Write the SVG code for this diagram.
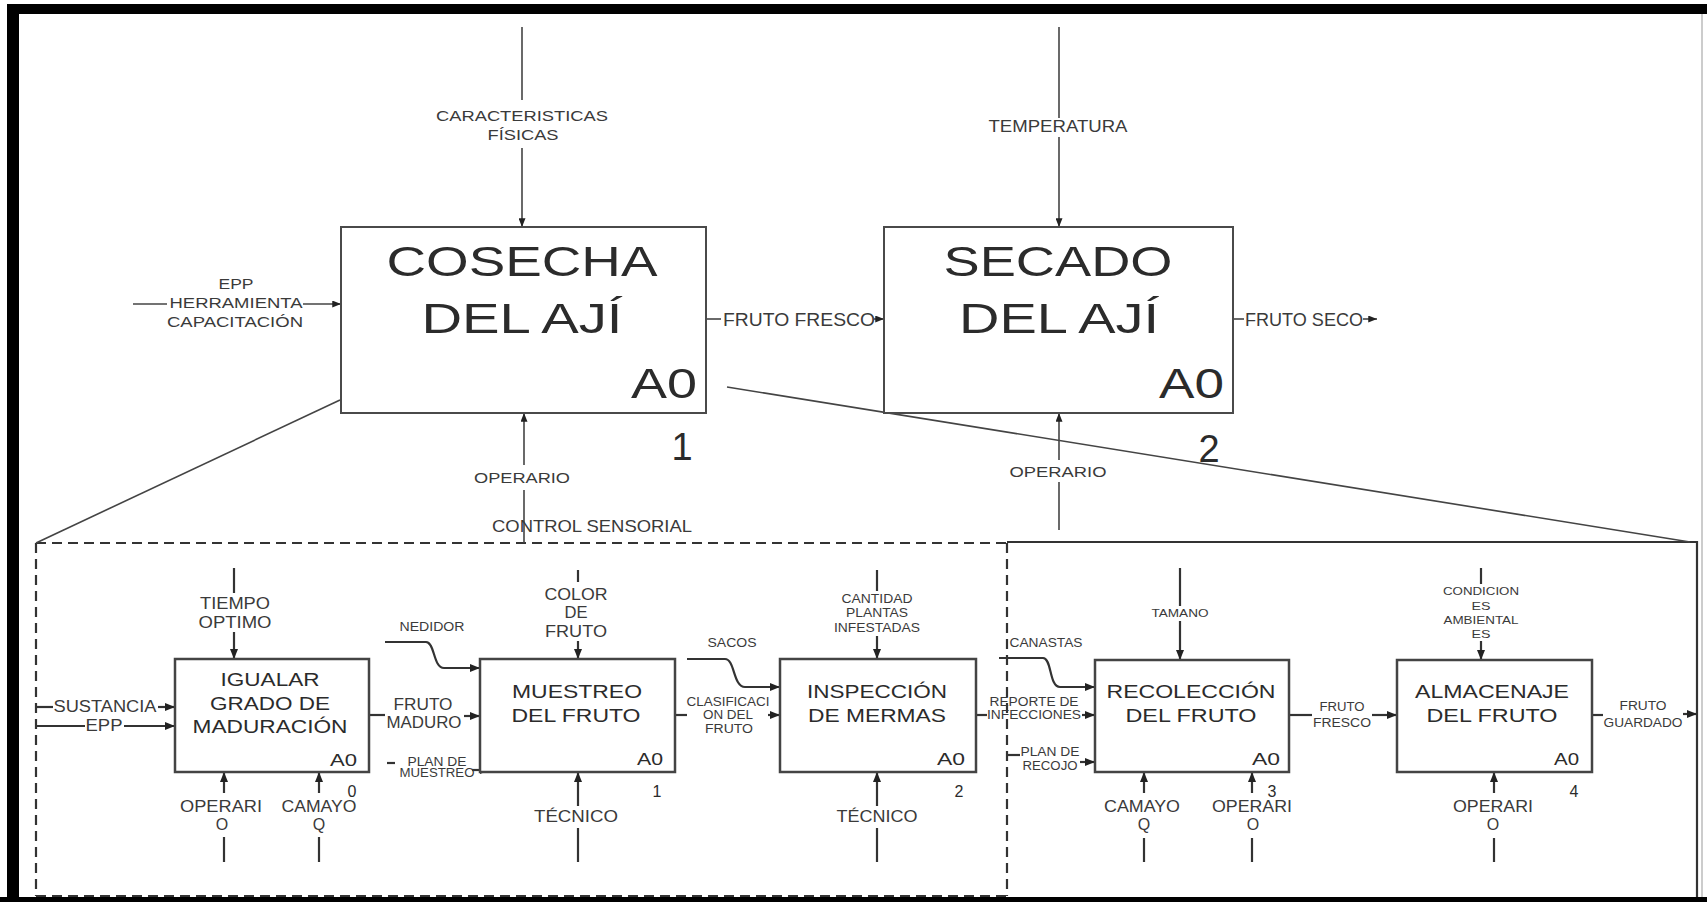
<svg xmlns="http://www.w3.org/2000/svg" width="1707" height="902" viewBox="0 0 1707 902">
<style>
.bg{fill:#ffffff}
.frame{fill:#000000}
.box{fill:#ffffff;stroke:#4a4a4a;stroke-width:2}
.sbox{fill:#ffffff;stroke:#444444;stroke-width:2.5}
.ln{fill:none;stroke:#444444;stroke-width:1.6}
.lnb{fill:none;stroke:#333333;stroke-width:2.2}
.dash{fill:none;stroke:#333333;stroke-width:2.2;stroke-dasharray:10 6}
.t{font-family:"Liberation Sans",Arial,sans-serif;fill:#2b2b2b;text-anchor:middle}
.te{font-family:"Liberation Sans",Arial,sans-serif;fill:#2b2b2b;text-anchor:end}
.lbl{font-family:"Liberation Sans",Arial,sans-serif;fill:#3a3a3a;text-anchor:middle}
</style>
<defs>
<marker id="ah" viewBox="0 0 10 8" refX="10" refY="4" markerWidth="10" markerHeight="8" markerUnits="userSpaceOnUse" orient="auto">
<path d="M0,0 L10,4 L0,8 z" fill="#222222"/>
</marker>
<marker id="ahs" viewBox="0 0 10 8" refX="10" refY="4" markerWidth="9" markerHeight="7" markerUnits="userSpaceOnUse" orient="auto">
<path d="M0,0 L10,4 L0,8 z" fill="#222222"/>
</marker>
</defs>
<rect class="bg" x="0" y="0" width="1707" height="902"/>
<g id="frame">
<rect class="frame" x="7" y="4" width="1700" height="10"/>
<rect class="frame" x="7" y="4" width="12" height="898"/>
<rect class="frame" x="0" y="897" width="1707" height="5"/>
<line x1="1702" y1="14" x2="1702" y2="897" stroke="#cccccc" stroke-width="2"/>
</g>
<g id="zoom-frame">
<path class="dash" d="M36,543 H1007 M36,543 V896 M1007,543 V896 M36,896 H1007"/>
<path class="lnb" d="M1007,542 H1697 V897"/>
</g>
<g id="connectors">
<path class="ln" d="M340,400 L36,543"/>
<path class="ln" d="M727,387 L1690,542"/>
<path class="ln" d="M522,27 V100"/>
<path class="ln" d="M522,148 V227" marker-end="url(#ahs)"/>
<path class="ln" d="M1059,27 V118"/>
<path class="ln" d="M1059,137 V227" marker-end="url(#ahs)"/>
<path class="ln" d="M133,304 H167"/>
<path class="ln" d="M303,304 H341" marker-end="url(#ahs)"/>
<path class="ln" d="M706,319 H721"/>
<path class="ln" d="M874,319 H884" marker-end="url(#ahs)"/>
<path class="ln" d="M1233,319 H1244"/>
<path class="ln" d="M1363,319 H1377" marker-end="url(#ahs)"/>
<path class="ln" d="M524,465 V413" marker-end="url(#ahs)"/>
<path class="ln" d="M524,490 V543"/>
<path class="ln" d="M1059,460 V413" marker-end="url(#ahs)"/>
<path class="ln" d="M1059,482 V530"/>
<path class="lnb" d="M234,568 V593"/>
<path class="lnb" d="M234,632 V659" marker-end="url(#ah)"/>
<path class="lnb" d="M578,570 V582"/>
<path class="lnb" d="M578,641 V659" marker-end="url(#ah)"/>
<path class="lnb" d="M877,570 V591"/>
<path class="lnb" d="M877,636 V659" marker-end="url(#ah)"/>
<path class="lnb" d="M1180,568 V606"/>
<path class="lnb" d="M1180,621 V660" marker-end="url(#ah)"/>
<path class="lnb" d="M1481,568 V584"/>
<path class="lnb" d="M1481,641 V660" marker-end="url(#ah)"/>
<path class="lnb" d="M36,707 H53"/>
<path class="lnb" d="M158,707 H175" marker-end="url(#ah)"/>
<path class="lnb" d="M36,726 H85"/>
<path class="lnb" d="M124,726 H175" marker-end="url(#ah)"/>
<path class="lnb" d="M369,715 H385"/>
<path class="lnb" d="M464,716 H480" marker-end="url(#ah)"/>
<path class="lnb" d="M385,642 H426 C435,642 433,668 444,668 H480" marker-end="url(#ah)"/>
<path class="lnb" d="M387,763 H395"/>
<path class="lnb" d="M472,770 H490" marker-end="url(#ah)"/>
<path class="lnb" d="M687,659 H725 C735,659 733,687 745,687 H780" marker-end="url(#ah)"/>
<path class="lnb" d="M675,715 H687"/>
<path class="lnb" d="M768,715 H780" marker-end="url(#ah)"/>
<path class="lnb" d="M976,715 H987"/>
<path class="lnb" d="M1082,715 H1095" marker-end="url(#ah)"/>
<path class="lnb" d="M999,658 H1043 C1052,658 1049,687 1060,687 H1095" marker-end="url(#ah)"/>
<path class="lnb" d="M1008,755 H1020"/>
<path class="lnb" d="M1080,762 H1095" marker-end="url(#ah)"/>
<path class="lnb" d="M1289,715 H1312"/>
<path class="lnb" d="M1372,715 H1397" marker-end="url(#ah)"/>
<path class="lnb" d="M1592,715 H1603"/>
<path class="lnb" d="M1683,714 H1697" marker-end="url(#ah)"/>
<path class="lnb" d="M224,793 V772" marker-end="url(#ah)"/>
<path class="lnb" d="M224,837 V862"/>
<path class="lnb" d="M319,793 V772" marker-end="url(#ah)"/>
<path class="lnb" d="M319,837 V862"/>
<path class="lnb" d="M578,806 V772" marker-end="url(#ah)"/>
<path class="lnb" d="M578,828 V862"/>
<path class="lnb" d="M877,806 V772" marker-end="url(#ah)"/>
<path class="lnb" d="M877,828 V862"/>
<path class="lnb" d="M1144,793 V772" marker-end="url(#ah)"/>
<path class="lnb" d="M1144,838 V862"/>
<path class="lnb" d="M1252,793 V772" marker-end="url(#ah)"/>
<path class="lnb" d="M1252,838 V862"/>
<path class="lnb" d="M1494,793 V772" marker-end="url(#ah)"/>
<path class="lnb" d="M1494,838 V862"/>
</g>
<g id="labels">
<text class="lbl" x="522" y="121" font-size="15" textLength="172" lengthAdjust="spacingAndGlyphs">CARACTERISTICAS</text>
<text class="lbl" x="523" y="140" font-size="15" textLength="71" lengthAdjust="spacingAndGlyphs">FÍSICAS</text>
<text class="lbl" x="236" y="289" font-size="15" textLength="35" lengthAdjust="spacingAndGlyphs">EPP</text>
<text class="lbl" x="236" y="308" font-size="15" textLength="133" lengthAdjust="spacingAndGlyphs">HERRAMIENTA</text>
<text class="lbl" x="235" y="327" font-size="15" textLength="136" lengthAdjust="spacingAndGlyphs">CAPACITACIÓN</text>
<text class="lbl" x="799" y="326" font-size="18" textLength="152" lengthAdjust="spacingAndGlyphs">FRUTO FRESCO</text>
<text class="lbl" x="1058" y="132" font-size="16" textLength="139" lengthAdjust="spacingAndGlyphs">TEMPERATURA</text>
<text class="lbl" x="1304" y="326" font-size="18" textLength="118" lengthAdjust="spacingAndGlyphs">FRUTO SECO</text>
<text class="lbl" x="522" y="483" font-size="15" textLength="96" lengthAdjust="spacingAndGlyphs">OPERARIO</text>
<text class="lbl" x="1058" y="477" font-size="15" textLength="97" lengthAdjust="spacingAndGlyphs">OPERARIO</text>
<text class="lbl" x="592" y="532" font-size="17" textLength="200" lengthAdjust="spacingAndGlyphs">CONTROL SENSORIAL</text>
<text class="lbl" x="235" y="609" font-size="17" textLength="70" lengthAdjust="spacingAndGlyphs">TIEMPO</text>
<text class="lbl" x="235" y="628" font-size="17" textLength="73" lengthAdjust="spacingAndGlyphs">OPTIMO</text>
<text class="lbl" x="105" y="712" font-size="16" textLength="103" lengthAdjust="spacingAndGlyphs">SUSTANCIA</text>
<text class="lbl" x="104" y="731" font-size="16" textLength="37" lengthAdjust="spacingAndGlyphs">EPP</text>
<text class="lbl" x="221" y="812" font-size="16" textLength="82" lengthAdjust="spacingAndGlyphs">OPERARI</text>
<text class="lbl" x="222" y="830" font-size="16">O</text>
<text class="lbl" x="319" y="812" font-size="16" textLength="75" lengthAdjust="spacingAndGlyphs">CAMAYO</text>
<text class="lbl" x="319" y="830" font-size="16">Q</text>
<text class="lbl" x="432" y="631" font-size="12" textLength="65" lengthAdjust="spacingAndGlyphs">NEDIDOR</text>
<text class="lbl" x="423" y="710" font-size="16" textLength="59" lengthAdjust="spacingAndGlyphs">FRUTO</text>
<text class="lbl" x="424" y="728" font-size="16" textLength="75" lengthAdjust="spacingAndGlyphs">MADURO</text>
<text class="lbl" x="437" y="766" font-size="12" textLength="59" lengthAdjust="spacingAndGlyphs">PLAN DE</text>
<text class="lbl" x="437" y="777" font-size="12" textLength="75" lengthAdjust="spacingAndGlyphs">MUESTREO</text>
<text class="lbl" x="576" y="600" font-size="16" textLength="63" lengthAdjust="spacingAndGlyphs">COLOR</text>
<text class="lbl" x="576" y="618" font-size="16" textLength="23" lengthAdjust="spacingAndGlyphs">DE</text>
<text class="lbl" x="576" y="637" font-size="16" textLength="62" lengthAdjust="spacingAndGlyphs">FRUTO</text>
<text class="lbl" x="576" y="822" font-size="16" textLength="84" lengthAdjust="spacingAndGlyphs">TÉCNICO</text>
<text class="lbl" x="732" y="647" font-size="12" textLength="49" lengthAdjust="spacingAndGlyphs">SACOS</text>
<text class="lbl" x="728" y="706" font-size="12" textLength="83" lengthAdjust="spacingAndGlyphs">CLASIFICACI</text>
<text class="lbl" x="728" y="719" font-size="12" textLength="50" lengthAdjust="spacingAndGlyphs">ON DEL</text>
<text class="lbl" x="729" y="733" font-size="12" textLength="48" lengthAdjust="spacingAndGlyphs">FRUTO</text>
<text class="lbl" x="877" y="603" font-size="12" textLength="71" lengthAdjust="spacingAndGlyphs">CANTIDAD</text>
<text class="lbl" x="877" y="617" font-size="12" textLength="62" lengthAdjust="spacingAndGlyphs">PLANTAS</text>
<text class="lbl" x="877" y="632" font-size="12" textLength="86" lengthAdjust="spacingAndGlyphs">INFESTADAS</text>
<text class="lbl" x="877" y="822" font-size="16" textLength="81" lengthAdjust="spacingAndGlyphs">TÉCNICO</text>
<text class="lbl" x="1034" y="706" font-size="12" textLength="89" lengthAdjust="spacingAndGlyphs">REPORTE DE</text>
<text class="lbl" x="1034" y="719" font-size="12" textLength="94" lengthAdjust="spacingAndGlyphs">INFECCIONES</text>
<text class="lbl" x="1046" y="647" font-size="12" textLength="73" lengthAdjust="spacingAndGlyphs">CANASTAS</text>
<text class="lbl" x="1050" y="756" font-size="12" textLength="59" lengthAdjust="spacingAndGlyphs">PLAN DE</text>
<text class="lbl" x="1050" y="770" font-size="12" textLength="55" lengthAdjust="spacingAndGlyphs">RECOJO</text>
<text class="lbl" x="1180" y="617" font-size="11" textLength="57" lengthAdjust="spacingAndGlyphs">TAMANO</text>
<text class="lbl" x="1142" y="812" font-size="16" textLength="76" lengthAdjust="spacingAndGlyphs">CAMAYO</text>
<text class="lbl" x="1144" y="830" font-size="16">Q</text>
<text class="lbl" x="1252" y="812" font-size="16" textLength="80" lengthAdjust="spacingAndGlyphs">OPERARI</text>
<text class="lbl" x="1253" y="830" font-size="16">O</text>
<text class="lbl" x="1342" y="711" font-size="12" textLength="45" lengthAdjust="spacingAndGlyphs">FRUTO</text>
<text class="lbl" x="1342" y="727" font-size="12" textLength="58" lengthAdjust="spacingAndGlyphs">FRESCO</text>
<text class="lbl" x="1481" y="595" font-size="11" textLength="76" lengthAdjust="spacingAndGlyphs">CONDICION</text>
<text class="lbl" x="1481" y="610" font-size="11" textLength="19" lengthAdjust="spacingAndGlyphs">ES</text>
<text class="lbl" x="1481" y="624" font-size="11" textLength="75" lengthAdjust="spacingAndGlyphs">AMBIENTAL</text>
<text class="lbl" x="1481" y="638" font-size="11" textLength="19" lengthAdjust="spacingAndGlyphs">ES</text>
<text class="lbl" x="1493" y="812" font-size="16" textLength="80" lengthAdjust="spacingAndGlyphs">OPERARI</text>
<text class="lbl" x="1493" y="830" font-size="16">O</text>
<text class="lbl" x="1643" y="710" font-size="12" textLength="47" lengthAdjust="spacingAndGlyphs">FRUTO</text>
<text class="lbl" x="1643" y="727" font-size="12" textLength="79" lengthAdjust="spacingAndGlyphs">GUARDADO</text>
</g>
<g id="cosecha">
<rect class="box" x="341" y="227" width="365" height="186"/>
<text class="t" x="522" y="276" font-size="43" textLength="271" lengthAdjust="spacingAndGlyphs">COSECHA</text>
<text class="t" x="522" y="333" font-size="43" textLength="201" lengthAdjust="spacingAndGlyphs">DEL AJÍ</text>
<text class="te" x="697" y="398" font-size="43" textLength="66" lengthAdjust="spacingAndGlyphs">A0</text>
<text class="t" x="682" y="460" font-size="38">1</text>
</g>
<g id="secado">
<rect class="box" x="884" y="227" width="349" height="186"/>
<text class="t" x="1058" y="276" font-size="43" textLength="229" lengthAdjust="spacingAndGlyphs">SECADO</text>
<text class="t" x="1059" y="333" font-size="43" textLength="200" lengthAdjust="spacingAndGlyphs">DEL AJÍ</text>
<text class="te" x="1224" y="398" font-size="43" textLength="65" lengthAdjust="spacingAndGlyphs">A0</text>
<text class="t" x="1209" y="462" font-size="38">2</text>
</g>
<g id="igualar">
<rect class="sbox" x="175" y="659" width="194" height="113"/>
<text class="t" x="270" y="686" font-size="19" textLength="99" lengthAdjust="spacingAndGlyphs">IGUALAR</text>
<text class="t" x="270" y="710" font-size="19" textLength="120" lengthAdjust="spacingAndGlyphs">GRADO DE</text>
<text class="t" x="270" y="733" font-size="19" textLength="155" lengthAdjust="spacingAndGlyphs">MADURACIÓN</text>
<text class="te" x="357" y="766" font-size="17" textLength="27" lengthAdjust="spacingAndGlyphs">A0</text>
<text class="t" x="352" y="797" font-size="16">0</text>
</g>
<g id="muestreo">
<rect class="sbox" x="480" y="659" width="195" height="113"/>
<text class="t" x="577" y="698" font-size="19" textLength="130" lengthAdjust="spacingAndGlyphs">MUESTREO</text>
<text class="t" x="576" y="722" font-size="19" textLength="129" lengthAdjust="spacingAndGlyphs">DEL FRUTO</text>
<text class="te" x="663" y="765" font-size="17" textLength="26" lengthAdjust="spacingAndGlyphs">A0</text>
<text class="t" x="657" y="797" font-size="16">1</text>
</g>
<g id="inspeccion">
<rect class="sbox" x="780" y="659" width="196" height="113"/>
<text class="t" x="877" y="698" font-size="19" textLength="140" lengthAdjust="spacingAndGlyphs">INSPECCIÓN</text>
<text class="t" x="877" y="722" font-size="19" textLength="138" lengthAdjust="spacingAndGlyphs">DE MERMAS</text>
<text class="te" x="965" y="765" font-size="17" textLength="28" lengthAdjust="spacingAndGlyphs">A0</text>
<text class="t" x="959" y="797" font-size="16">2</text>
</g>
<g id="recoleccion">
<rect class="sbox" x="1095" y="660" width="194" height="112"/>
<text class="t" x="1191" y="698" font-size="19" textLength="169" lengthAdjust="spacingAndGlyphs">RECOLECCIÓN</text>
<text class="t" x="1191" y="722" font-size="19" textLength="131" lengthAdjust="spacingAndGlyphs">DEL FRUTO</text>
<text class="te" x="1280" y="765" font-size="17" textLength="28" lengthAdjust="spacingAndGlyphs">A0</text>
<text class="t" x="1272" y="797" font-size="16">3</text>
</g>
<g id="almacenaje">
<rect class="sbox" x="1397" y="660" width="195" height="112"/>
<text class="t" x="1492" y="698" font-size="19" textLength="154" lengthAdjust="spacingAndGlyphs">ALMACENAJE</text>
<text class="t" x="1492" y="722" font-size="19" textLength="131" lengthAdjust="spacingAndGlyphs">DEL FRUTO</text>
<text class="te" x="1579" y="765" font-size="17" textLength="25" lengthAdjust="spacingAndGlyphs">A0</text>
<text class="t" x="1574" y="797" font-size="16">4</text>
</g>
</svg>
